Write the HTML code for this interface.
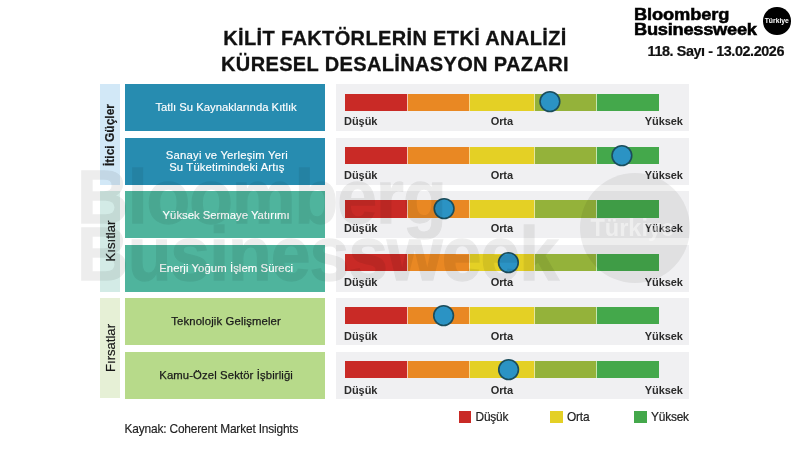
<!DOCTYPE html>
<html lang="tr">
<head>
<meta charset="utf-8">
<title>Kilit Faktörlerin Etki Analizi</title>
<style>
html,body{margin:0;padding:0;}
body{width:800px;height:450px;background:#fff;position:relative;overflow:hidden;font-family:"Liberation Sans",sans-serif;color:#1a1a1a;}
.abs{position:absolute;}
.title{left:145px;width:500px;text-align:center;font-weight:bold;font-size:20px;line-height:26px;letter-spacing:0.36px;-webkit-text-stroke:0.3px #111;color:#111;white-space:nowrap;}
#t1{top:24.7px;}
#t2{top:51.1px;}
.logo{left:634px;top:7.2px;font-weight:bold;font-size:17.1px;line-height:15px;color:#000;white-space:nowrap;transform:scaleX(1.07);transform-origin:0 0;-webkit-text-stroke:0.55px #000;letter-spacing:-0.12px;}
.lcirc{left:763px;top:7px;width:27.6px;height:27.6px;border-radius:50%;background:#000;color:#fff;font-size:6.8px;font-weight:bold;text-align:center;line-height:28.6px;}
.date{left:647.6px;top:43px;-webkit-text-stroke:0.2px #111;font-weight:bold;font-size:14.4px;letter-spacing:-0.42px;line-height:16px;color:#111;white-space:nowrap;}
.side{left:100.2px;width:20.2px;}
.side span{position:absolute;left:50%;top:50%;transform:translate(-50%,-50%) rotate(-90deg);white-space:nowrap;font-size:13.1px;-webkit-text-stroke:0.2px #1a1a1a;color:#1a1a1a;}
.box{left:124.8px;width:200.6px;height:47px;box-sizing:border-box;padding-left:2px;display:flex;align-items:center;justify-content:center;text-align:center;font-size:11.3px;line-height:12.6px;}
.panel{left:335.5px;width:353.5px;height:47px;background:#f0f0f2;}
.bar{position:absolute;top:9.3px;height:17.1px;left:9.5px;width:314px;background:linear-gradient(90deg,#c92a26 0,#c92a26 61.6px,#f6c8b4 61.6px,#f6c8b4 62.6px,#e98823 62.6px,#e98823 124.4px,#f8dc8c 124.4px,#f8dc8c 125.4px,#e4d025 125.4px,#e4d025 188.6px,#e6e6a0 188.6px,#e6e6a0 189.6px,#94b23a 189.6px,#94b23a 251.1px,#c4e6b0 251.1px,#c4e6b0 252.1px,#44a84b 252.1px,#44a84b 314px);}
.lab{position:absolute;font-size:11px;letter-spacing:-0.08px;font-weight:bold;line-height:12px;color:#2b2b2b;white-space:nowrap;}
.dot{position:absolute;top:0;left:0;width:353px;height:47px;overflow:visible;}
.wm{font-weight:bold;font-size:76px;line-height:56.5px;color:#000;-webkit-text-stroke:1.3px #000;opacity:0.068;white-space:nowrap;transform:scaleX(0.94);transform-origin:0 0;letter-spacing:-1px;pointer-events:none;}
.wmc{width:110px;height:110px;border-radius:50%;background:rgba(0,0,0,0.068);pointer-events:none;}
.wmc span{position:absolute;left:10.5px;top:40.8px;font-weight:bold;font-size:23.5px;line-height:30px;color:rgba(255,255,255,0.45);}
.leg{font-size:11.9px;letter-spacing:-0.2px;-webkit-text-stroke:0.2px #222;color:#222;white-space:nowrap;line-height:14px;}
.sq{width:12.6px;height:12.4px;}
</style>
</head>
<body>
<div class="abs title" id="t1">KİLİT FAKTÖRLERİN ETKİ ANALİZİ</div>
<div class="abs title" id="t2">KÜRESEL DESALİNASYON PAZARI</div>
<div class="abs logo">Bloomberg<br><span style="letter-spacing:-0.26px">Businessweek</span></div>
<div class="abs lcirc">Türkiye</div>
<div class="abs date">118. Sayı - 13.02.2026</div>
<div class="abs side" style="top:84.3px;height:100.44px;background:#d2e8f7;"><span style="font-weight:bold;font-size:12px;">İtici Güçler</span></div>
<div class="abs side" style="top:191.18px;height:100.44px;background:#d3ebe6;"><span style="">Kısıtlar</span></div>
<div class="abs side" style="top:298.06px;height:100.44px;background:#e6f0d6;"><span style="">Fırsatlar</span></div>
<div class="abs box" style="top:84.3px;background:#278cb0;color:#fff;padding-bottom:1.6px;-webkit-text-stroke:0.15px #fff;"><div>Tatlı Su Kaynaklarında Kıtlık</div></div>
<div class="abs box" style="top:137.74px;background:#278cb0;color:#fff;padding-top:0.4px;padding-left:3.6px;-webkit-text-stroke:0.15px #fff;"><div><span style="letter-spacing:0.2px">Sanayi ve Yerleşim Yeri</span><br><span style="letter-spacing:0.15px">Su Tüketimindeki Artış</span></div></div>
<div class="abs box" style="top:191.18px;background:#4fb49d;color:#fff;padding-top:0.4px;-webkit-text-stroke:0.15px #fff;"><div>Yüksek Sermaye Yatırımı</div></div>
<div class="abs box" style="top:244.62px;background:#4fb49d;color:#fff;padding-top:0.2px;letter-spacing:0.08px;-webkit-text-stroke:0.15px #fff;"><div>Enerji Yoğum İşlem Süreci</div></div>
<div class="abs box" style="top:298.06px;background:#b7da8a;color:#1a1a1a;padding-top:0.3px;letter-spacing:0.14px;-webkit-text-stroke:0.25px #1a1a1a;"><div>Teknolojik Gelişmeler</div></div>
<div class="abs box" style="top:351.5px;background:#b7da8a;color:#1a1a1a;padding-top:0.3px;letter-spacing:0.12px;-webkit-text-stroke:0.25px #1a1a1a;"><div>Kamu-Özel Sektör İşbirliği</div></div>
<div class="abs panel" style="top:84.3px;"><i class="bar"></i><svg class="dot" viewBox="0 0 353 47"><circle cx="213.9" cy="17.6" r="9.85" fill="#2b93c4" stroke="#1b4d5c" stroke-width="1.6"/></svg><span class="lab" style="left:8.6px;top:30.3px;">Düşük</span><span class="lab" style="left:155.2px;top:30.3px;">Orta</span><span class="lab" style="left:309.3px;top:30.3px;">Yüksek</span></div>
<div class="abs panel" style="top:137.74px;"><i class="bar"></i><svg class="dot" viewBox="0 0 353 47"><circle cx="285.9" cy="17.6" r="9.85" fill="#2b93c4" stroke="#1b4d5c" stroke-width="1.6"/></svg><span class="lab" style="left:8.6px;top:31.3px;">Düşük</span><span class="lab" style="left:155.2px;top:31.3px;">Orta</span><span class="lab" style="left:309.3px;top:31.3px;">Yüksek</span></div>
<div class="abs panel" style="top:191.18px;"><i class="bar"></i><svg class="dot" viewBox="0 0 353 47"><circle cx="108.1" cy="17.6" r="9.85" fill="#2b93c4" stroke="#1b4d5c" stroke-width="1.6"/></svg><span class="lab" style="left:8.6px;top:31.3px;">Düşük</span><span class="lab" style="left:155.2px;top:31.3px;">Orta</span><span class="lab" style="left:309.3px;top:31.3px;">Yüksek</span></div>
<div class="abs panel" style="top:244.62px;"><i class="bar"></i><svg class="dot" viewBox="0 0 353 47"><circle cx="172.4" cy="17.6" r="9.85" fill="#2b93c4" stroke="#1b4d5c" stroke-width="1.6"/></svg><span class="lab" style="left:8.6px;top:31.3px;">Düşük</span><span class="lab" style="left:155.2px;top:31.3px;">Orta</span><span class="lab" style="left:309.3px;top:31.3px;">Yüksek</span></div>
<div class="abs panel" style="top:298.06px;"><i class="bar"></i><svg class="dot" viewBox="0 0 353 47"><circle cx="107.6" cy="17.6" r="9.85" fill="#2b93c4" stroke="#1b4d5c" stroke-width="1.6"/></svg><span class="lab" style="left:8.6px;top:32.3px;">Düşük</span><span class="lab" style="left:155.2px;top:32.3px;">Orta</span><span class="lab" style="left:309.3px;top:32.3px;">Yüksek</span></div>
<div class="abs panel" style="top:351.5px;"><i class="bar"></i><svg class="dot" viewBox="0 0 353 47"><circle cx="172.6" cy="17.6" r="9.85" fill="#2b93c4" stroke="#1b4d5c" stroke-width="1.6"/></svg><span class="lab" style="left:8.6px;top:32.3px;">Düşük</span><span class="lab" style="left:155.2px;top:32.3px;">Orta</span><span class="lab" style="left:309.3px;top:32.3px;">Yüksek</span></div>
<div class="abs sq" style="left:458.8px;top:410.6px;background:#c92a26;"></div>
<div class="abs leg" style="left:475.5px;top:410.3px;">Düşük</div>
<div class="abs sq" style="left:550.4px;top:410.6px;background:#e4d025;"></div>
<div class="abs leg" style="left:567px;top:410.3px;">Orta</div>
<div class="abs sq" style="left:634.3px;top:410.6px;background:#44a84b;"></div>
<div class="abs leg" style="left:651px;top:410.3px;">Yüksek</div>
<div class="abs leg" style="left:124.6px;top:421.8px;font-size:11.9px;letter-spacing:-0.17px;-webkit-text-stroke:0.15px #222;">Kaynak: Coherent Market Insights</div>
<div class="abs wm" style="left:77px;top:169px;">Bloomberg<br>Businessweek</div>
<div class="abs wmc" style="left:580px;top:172.5px;"><span>Türkiye</span></div>
</body>
</html>
